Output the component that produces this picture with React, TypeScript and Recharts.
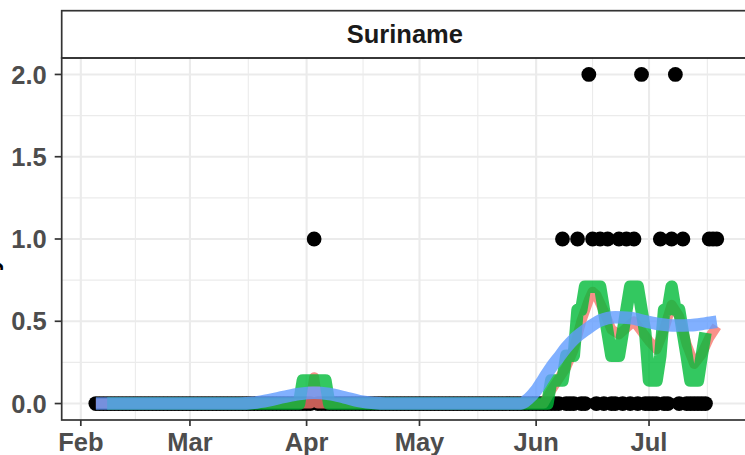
import { ComposedChart, Line, Scatter, XAxis, YAxis, CartesianGrid } from 'recharts';

// dates are M/D in 2020, converted to days since Feb 1 for the numeric x axis
const monthStarts = ['2/1', '3/1', '4/1', '5/1', '6/1', '7/1'];
const monthLabels = ['Feb', 'Mar', 'Apr', 'May', 'Jun', 'Jul'];
const minorDays = [14.5, 44.5, 75, 105.5, 136, 166.5];
const yTicks = [0, 0.5, 1, 1.5, 2];
const yMinor = [0.25, 0.75, 1.25, 1.75];

// daily deaths, one value per day starting Feb 5
const firstDate = '2/5';
const feb = [0, 0, 0, 0, 0, 0, 0, 0, 0, 0, 0, 0, 0, 0, 0, 0, 0, 0, 0, 0, 0, 0, 0, 0, 0];
const mar = [0, 0, 0, 0, 0, 0, 0, 0, 0, 0, 0, 0, 0, 0, 0, 0, 0, 0, 0, 0, 0, 0, 0, 0, 0, 0, 0, 0, 0, 0, 0];
const apr = [0, 0, 1, 0, 0, 0, 0, 0, 0, 0, 0, 0, 0, 0, 0, 0, 0, 0, 0, 0, 0, 0, 0, 0, 0, 0, 0, 0, 0, 0];
const may = [0, 0, 0, 0, 0, 0, 0, 0, 0, 0, 0, 0, 0, 0, 0, 0, 0, 0, 0, 0, 0, 0, 0, 0, 0, 0, 0, 0, 0, 0, 0];
const jun = [0, 0, 0, 0, 0, 0, 0, 1, 0, 0, 0, 1, 0, 0, 2, 1, 0, 1, 0, 1, 0, 0, 1, 0, 1, 0, 1, 0, 2, 0];
const jul = [0, 0, 0, 1, 0, 0, 1, 2, 0, 1, 0, 0, 0, 0, 0, 0, 1, 1, 1];

// red rolling average
const redLine: [string, number][] = [
  ['2/5', 0], ['4/2', 0], ['4/3', 0.16], ['4/4', 0], ['6/3', 0], ['6/5', 0.08], ['6/7', 0.15],
  ['6/9', 0.22], ['6/11', 0.33], ['6/13', 0.5], ['6/15', 0.63], ['6/16', 0.68], ['6/17', 0.66],
  ['6/19', 0.56], ['6/21', 0.45], ['6/23', 0.42], ['6/25', 0.46], ['6/27', 0.5], ['6/29', 0.44],
  ['7/1', 0.38], ['7/3', 0.33], ['7/5', 0.45], ['7/7', 0.6], ['7/9', 0.53], ['7/11', 0.36],
  ['7/13', 0.24], ['7/15', 0.3], ['7/17', 0.4], ['7/19', 0.47],
];

// green 7-day average
const greenLine: [string, number][] = [
  ['2/8', 0], ['3/30', 0], ['3/31', 0.14], ['4/6', 0.14], ['4/7', 0], ['6/4', 0], ['6/5', 0.14],
  ['6/8', 0.14], ['6/9', 0.29], ['6/11', 0.29], ['6/12', 0.57], ['6/13', 0.57], ['6/14', 0.71],
  ['6/18', 0.71], ['6/19', 0.57], ['6/20', 0.43], ['6/21', 0.29], ['6/23', 0.29], ['6/24', 0.43],
  ['6/25', 0.57], ['6/26', 0.71], ['6/28', 0.71], ['6/29', 0.57], ['6/30', 0.43], ['7/1', 0.14],
  ['7/3', 0.14], ['7/4', 0.29], ['7/5', 0.57], ['7/6', 0.57], ['7/7', 0.71], ['7/8', 0.57],
  ['7/9', 0.57], ['7/10', 0.43], ['7/11', 0.29], ['7/12', 0.14], ['7/14', 0.14], ['7/15', 0.29],
  ['7/16', 0.43],
];

// blue smooth trend
const blueLine: [string, number][] = [
  ['2/5', 0], ['3/14', 0], ['3/18', 0.005], ['3/22', 0.02], ['3/26', 0.04], ['3/30', 0.058],
  ['4/3', 0.066], ['4/7', 0.058], ['4/11', 0.038], ['4/15', 0.015], ['4/19', 0.003], ['4/22', 0],
  ['5/28', 0], ['5/30', 0.03], ['6/1', 0.08], ['6/3', 0.15], ['6/5', 0.22], ['6/7', 0.28],
  ['6/9', 0.34], ['6/11', 0.39], ['6/14', 0.445], ['6/18', 0.505], ['6/22', 0.525], ['6/26', 0.52],
  ['6/30', 0.5], ['7/4', 0.482], ['7/8', 0.474], ['7/12', 0.476], ['7/16', 0.487], ['7/19', 0.497],
];

const toDay = (md: string) => {
  const [m, d] = md.split('/').map(Number);
  return (Date.UTC(2020, m - 1, d) - Date.UTC(2020, 1, 1)) / 86400000;
};
const asPoints = (rows: [string, number][]) => rows.map(([d, v]) => ({ day: toDay(d), value: v }));

const start = toDay(firstDate);
const deaths = [...feb, ...mar, ...apr, ...may, ...jun, ...jul].map((v, i) => ({ day: start + i, value: v }));
const tickDays = monthStarts.map(toDay);

const FONT = '"Liberation Sans", Arial, Helvetica, sans-serif';
const tickStyle = { fontSize: 25.5, fontWeight: 700, fill: '#4D4D4D', fontFamily: FONT };

const X_DOMAIN: [number, number] = [-5.08, 177.3];
const Y_DOMAIN: [number, number] = [-0.1, 2.1];
const LEFT = 61.7;
const RIGHT = 748;
const W = 760;
const H = 455;

const Dot = (p: { cx?: number; cy?: number }) => <circle cx={p.cx} cy={p.cy} r={7.4} fill="#000000" />;

const layer: React.CSSProperties = { position: 'absolute', left: 0, top: 0 };

export default function App() {
  return (
    <div style={{ position: 'absolute', left: 0, top: 0, width: 745, height: 455, overflow: 'hidden', background: '#fff' }}>
      {/* bottom layer: grid, axes and the daily points */}
      <div style={layer}>
        <ComposedChart width={W} height={H} margin={{ top: 58, right: W - RIGHT, bottom: 0, left: 0 }}>
          <CartesianGrid stroke="#EBEBEB" strokeWidth={1.1} horizontalValues={yMinor} verticalValues={minorDays} />
          <CartesianGrid stroke="#EBEBEB" strokeWidth={2.1} horizontalValues={yTicks} verticalValues={tickDays} />
          <XAxis
            type="number"
            dataKey="day"
            domain={X_DOMAIN}
            allowDataOverflow
            ticks={tickDays}
            tickFormatter={(v) => monthLabels[tickDays.indexOf(v)]}
            height={35}
            axisLine={false}
            tickSize={6}
            tickMargin={7}
            tickLine={{ stroke: '#333333', strokeWidth: 1.7 }}
            tick={tickStyle}
            interval={0}
          />
          <YAxis
            type="number"
            domain={Y_DOMAIN}
            allowDataOverflow
            ticks={yTicks}
            tickFormatter={(v) => v.toFixed(1)}
            width={LEFT}
            axisLine={false}
            tickSize={7}
            tickMargin={8}
            tickLine={{ stroke: '#333333', strokeWidth: 1.7 }}
            tick={tickStyle}
            interval={0}
          />
          <Scatter data={deaths} dataKey="value" shape={Dot} isAnimationActive={false} />
        </ComposedChart>
      </div>
      {/* top layer: the three lines, same plot area */}
      <div style={layer}>
        <ComposedChart width={W} height={H} margin={{ top: 58, right: W - RIGHT, bottom: 35, left: LEFT }}>
          <XAxis type="number" dataKey="day" domain={X_DOMAIN} allowDataOverflow hide />
          <YAxis type="number" domain={Y_DOMAIN} allowDataOverflow hide />
          <Line data={asPoints(redLine)} dataKey="value" type="linear" stroke="#F8766D" strokeOpacity={0.8}
            strokeWidth={10} strokeLinejoin="round" dot={false} activeDot={false} isAnimationActive={false} />
          <Line data={asPoints(greenLine)} dataKey="value" type="linear" stroke="#00BA38" strokeOpacity={0.8}
            strokeWidth={12.5} strokeLinejoin="round" dot={false} activeDot={false} isAnimationActive={false} />
          <Line data={asPoints(blueLine)} dataKey="value" type="monotone" stroke="#619CFF" strokeOpacity={0.8}
            strokeWidth={12.5} strokeLinejoin="round" dot={false} activeDot={false} isAnimationActive={false} />
        </ComposedChart>
      </div>
      <svg width={745} height={455} style={{ ...layer, pointerEvents: 'none' }}>
        <rect x={LEFT} y={10.7} width={RIGHT - LEFT + 10} height={47.3} fill="none" stroke="#333333" strokeWidth={1.7} />
        <text x={(LEFT + RIGHT) / 2} y={43.3} textAnchor="middle" fontFamily={FONT} fontWeight={700} fontSize={25.5} fill="#1A1A1A">
          Suriname
        </text>
        <rect x={LEFT} y={58} width={RIGHT - LEFT + 10} height={362} fill="none" stroke="#333333" strokeWidth={1.7} />
        <text transform="translate(-2.4, 318) rotate(-90)" fontFamily={FONT} fontWeight={700} fontSize={25.5} fill="#000000">
          Daily deaths
        </text>
      </svg>
    </div>
  );
}
